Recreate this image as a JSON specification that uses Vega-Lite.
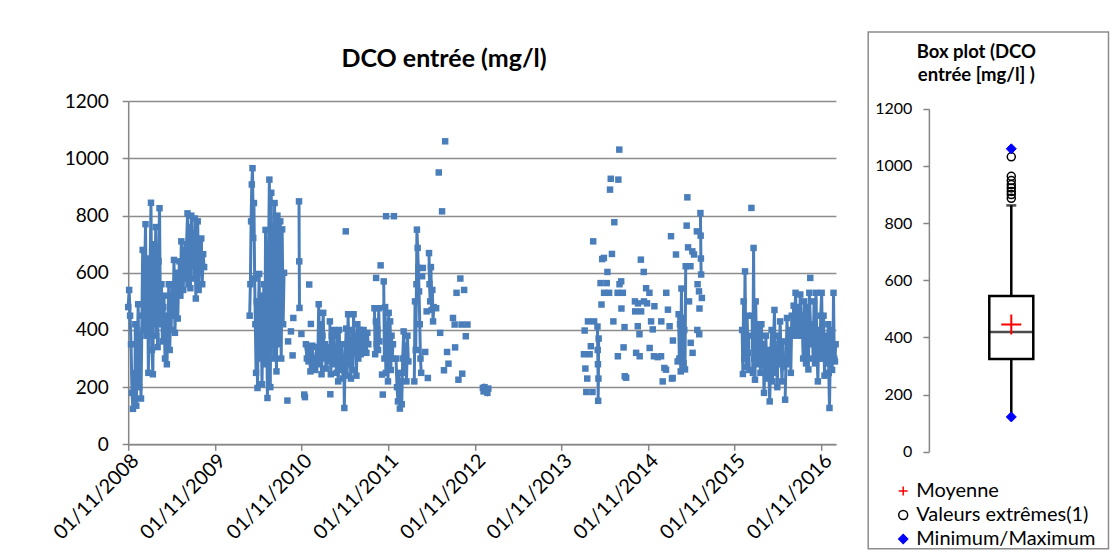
{
"$schema": "https://vega.github.io/schema/vega-lite/v6.json",
"padding": {"left": 49.2, "top": 31, "right": 0, "bottom": 0},
"background": "white",
"spacing": 25,
"config": {"font": "Lato", "view": {"stroke": null}},
"datasets": {
"dco": [
{"d":"2008-11-01","v":480,"s":1},{"d":"2008-11-05","v":540,"s":1},{"d":"2008-11-09","v":450,"s":1},{"d":"2008-11-13","v":350,"s":1},{"d":"2008-11-17","v":180,"s":1},{"d":"2008-11-21","v":124,"s":1},{"d":"2008-11-25","v":250,"s":1},{"d":"2008-11-29","v":160,"s":1},
{"d":"2008-12-01","v":420,"s":1},{"d":"2008-12-05","v":135,"s":1},{"d":"2008-12-09","v":300,"s":1},{"d":"2008-12-13","v":490,"s":1},{"d":"2008-12-17","v":200,"s":1},{"d":"2008-12-21","v":380,"s":1},{"d":"2008-12-25","v":160,"s":1},{"d":"2008-12-29","v":450,"s":1},
{"d":"2009-01-01","v":680,"s":1},{"d":"2009-01-05","v":400,"s":1},{"d":"2009-01-09","v":560,"s":1},{"d":"2009-01-13","v":770,"s":1},{"d":"2009-01-17","v":380,"s":1},{"d":"2009-01-21","v":650,"s":1},{"d":"2009-01-25","v":250,"s":1},{"d":"2009-01-29","v":500,"s":1},
{"d":"2009-02-01","v":600,"s":1},{"d":"2009-02-05","v":845,"s":1},{"d":"2009-02-09","v":330,"s":1},{"d":"2009-02-13","v":245,"s":1},{"d":"2009-02-17","v":700,"s":1},{"d":"2009-02-21","v":420,"s":1},{"d":"2009-02-25","v":760,"s":1},{"d":"2009-02-28","v":380,"s":1},
{"d":"2009-03-01","v":520,"s":1},{"d":"2009-03-05","v":340,"s":1},{"d":"2009-03-09","v":640,"s":1},{"d":"2009-03-13","v":826,"s":1},{"d":"2009-03-17","v":420,"s":1},{"d":"2009-03-21","v":560,"s":1},{"d":"2009-03-25","v":360,"s":1},{"d":"2009-03-29","v":480,"s":1},
{"d":"2009-04-01","v":520,"s":1},{"d":"2009-04-05","v":300,"s":1},{"d":"2009-04-09","v":450,"s":1},{"d":"2009-04-13","v":280,"s":1},{"d":"2009-04-17","v":400,"s":1},{"d":"2009-04-21","v":560,"s":1},{"d":"2009-04-25","v":330,"s":1},{"d":"2009-04-29","v":470,"s":1},
{"d":"2009-05-01","v":400,"s":1},{"d":"2009-05-05","v":560,"s":1},{"d":"2009-05-09","v":450,"s":1},{"d":"2009-05-13","v":645,"s":1},{"d":"2009-05-17","v":390,"s":1},{"d":"2009-05-21","v":520,"s":1},{"d":"2009-05-25","v":600,"s":1},{"d":"2009-05-29","v":440,"s":1},
{"d":"2009-06-01","v":560,"s":1},{"d":"2009-06-05","v":640,"s":1},{"d":"2009-06-09","v":520,"s":1},{"d":"2009-06-13","v":710,"s":1},{"d":"2009-06-17","v":600,"s":1},{"d":"2009-06-21","v":540,"s":1},{"d":"2009-06-25","v":680,"s":1},{"d":"2009-06-29","v":580,"s":1},
{"d":"2009-07-01","v":600,"s":1},{"d":"2009-07-05","v":700,"s":1},{"d":"2009-07-09","v":808,"s":1},{"d":"2009-07-13","v":560,"s":1},{"d":"2009-07-17","v":760,"s":1},{"d":"2009-07-21","v":546,"s":1},{"d":"2009-07-25","v":800,"s":1},{"d":"2009-07-29","v":640,"s":1},
{"d":"2009-08-01","v":700,"s":1},{"d":"2009-08-05","v":580,"s":1},{"d":"2009-08-09","v":790,"s":1},{"d":"2009-08-13","v":510,"s":1},{"d":"2009-08-17","v":650,"s":1},{"d":"2009-08-21","v":780,"s":1},{"d":"2009-08-25","v":540,"s":1},{"d":"2009-08-29","v":700,"s":1},
{"d":"2009-09-01","v":600,"s":1},{"d":"2009-09-05","v":720,"s":1},{"d":"2009-09-09","v":560,"s":1},{"d":"2009-09-13","v":665,"s":1},{"d":"2009-09-17","v":620,"s":1},
{"d":"2010-03-28","v":450,"s":2},{"d":"2010-03-31","v":560,"s":2},
{"d":"2010-04-03","v":780,"s":2},{"d":"2010-04-06","v":909,"s":2},{"d":"2010-04-09","v":966,"s":2},{"d":"2010-04-12","v":722,"s":2},{"d":"2010-04-15","v":844,"s":2},{"d":"2010-04-18","v":580,"s":2},{"d":"2010-04-21","v":420,"s":2},{"d":"2010-04-24","v":250,"s":2},{"d":"2010-04-27","v":500,"s":2},{"d":"2010-04-30","v":197,"s":2},
{"d":"2010-05-03","v":400,"s":2},{"d":"2010-05-07","v":596,"s":2},{"d":"2010-05-11","v":300,"s":2},{"d":"2010-05-15","v":520,"s":2},{"d":"2010-05-19","v":210,"s":2},{"d":"2010-05-23","v":450,"s":2},{"d":"2010-05-27","v":560,"s":2},{"d":"2010-05-31","v":280,"s":2},
{"d":"2010-06-03","v":750,"s":2},{"d":"2010-06-07","v":450,"s":2},{"d":"2010-06-11","v":162,"s":2},{"d":"2010-06-15","v":600,"s":2},{"d":"2010-06-19","v":926,"s":2},{"d":"2010-06-23","v":200,"s":2},{"d":"2010-06-27","v":880,"s":2},{"d":"2010-06-30","v":400,"s":2},
{"d":"2010-07-03","v":700,"s":2},{"d":"2010-07-07","v":300,"s":2},{"d":"2010-07-11","v":844,"s":2},{"d":"2010-07-15","v":500,"s":2},{"d":"2010-07-19","v":255,"s":2},{"d":"2010-07-23","v":800,"s":2},{"d":"2010-07-27","v":350,"s":2},{"d":"2010-07-31","v":600,"s":2},
{"d":"2010-08-04","v":780,"s":2},{"d":"2010-08-08","v":300,"s":2},{"d":"2010-08-12","v":752,"s":2},{"d":"2010-08-16","v":420,"s":2},{"d":"2010-08-20","v":600,"s":2},
{"d":"2010-09-03","v":153},{"d":"2010-09-06","v":360},{"d":"2010-09-18","v":395},{"d":"2010-09-25","v":311},{"d":"2010-09-28","v":442},
{"d":"2010-10-22","v":850,"s":3},{"d":"2010-10-23","v":640,"s":3},{"d":"2010-10-24","v":477,"s":3},
{"d":"2010-11-01","v":386},{"d":"2010-11-13","v":174},{"d":"2010-11-16","v":165},{"d":"2010-12-04","v":559},{"d":"2010-12-11","v":421},
{"d":"2010-11-20","v":350,"s":4},{"d":"2010-11-24","v":300,"s":4},{"d":"2010-11-28","v":340,"s":4},{"d":"2010-12-01","v":290,"s":4},{"d":"2010-12-05","v":330,"s":4},{"d":"2010-12-09","v":255,"s":4},{"d":"2010-12-13","v":310,"s":4},{"d":"2010-12-17","v":345,"s":4},{"d":"2010-12-21","v":270,"s":4},{"d":"2010-12-25","v":300,"s":4},{"d":"2010-12-29","v":260,"s":4},
{"d":"2011-01-01","v":295,"s":4},{"d":"2011-01-05","v":340,"s":4},{"d":"2011-01-09","v":280,"s":4},{"d":"2011-01-13","v":490,"s":4},{"d":"2011-01-17","v":300,"s":4},{"d":"2011-01-21","v":420,"s":4},{"d":"2011-01-25","v":245,"s":4},{"d":"2011-01-29","v":380,"s":4},
{"d":"2011-02-01","v":460,"s":4},{"d":"2011-02-05","v":300,"s":4},{"d":"2011-02-09","v":350,"s":4},{"d":"2011-02-13","v":265,"s":4},{"d":"2011-02-17","v":320,"s":4},{"d":"2011-02-21","v":290,"s":4},{"d":"2011-02-25","v":340,"s":4},
{"d":"2011-03-01","v":430,"s":5},{"d":"2011-03-05","v":245,"s":5},{"d":"2011-03-09","v":380,"s":5},{"d":"2011-03-13","v":300,"s":5},{"d":"2011-03-17","v":400,"s":5},{"d":"2011-03-21","v":280,"s":5},{"d":"2011-03-25","v":330,"s":5},{"d":"2011-03-29","v":250,"s":5},
{"d":"2011-04-01","v":380,"s":5},{"d":"2011-04-05","v":220,"s":5},{"d":"2011-04-09","v":400,"s":5},{"d":"2011-04-13","v":300,"s":5},{"d":"2011-04-17","v":260,"s":5},{"d":"2011-04-21","v":350,"s":5},{"d":"2011-04-25","v":230,"s":5},{"d":"2011-04-29","v":300,"s":5},
{"d":"2011-05-01","v":127,"s":5},{"d":"2011-05-04","v":300,"s":5},{"d":"2011-05-09","v":405,"s":5},{"d":"2011-05-13","v":240,"s":5},{"d":"2011-05-17","v":455,"s":5},{"d":"2011-05-21","v":280,"s":5},{"d":"2011-05-25","v":350,"s":5},{"d":"2011-05-29","v":230,"s":5},
{"d":"2011-06-01","v":400,"s":5},{"d":"2011-06-05","v":260,"s":5},{"d":"2011-06-09","v":455,"s":5},{"d":"2011-06-13","v":320,"s":5},{"d":"2011-06-17","v":380,"s":5},{"d":"2011-06-21","v":240,"s":5},{"d":"2011-06-25","v":420,"s":5},{"d":"2011-06-29","v":300,"s":5},
{"d":"2011-07-01","v":350,"s":5},{"d":"2011-07-05","v":400,"s":5},{"d":"2011-07-09","v":315,"s":5},{"d":"2011-07-13","v":380,"s":5},{"d":"2011-07-17","v":330,"s":5},{"d":"2011-07-21","v":400,"s":5},{"d":"2011-07-25","v":340,"s":5},{"d":"2011-07-29","v":370,"s":5},
{"d":"2011-08-02","v":320,"s":5},{"d":"2011-08-06","v":390,"s":5},{"d":"2011-08-10","v":350,"s":5},
{"d":"2011-03-03","v":175},{"d":"2011-05-07","v":745},
{"d":"2011-09-05","v":476,"s":6},{"d":"2011-09-08","v":315,"s":6},{"d":"2011-09-11","v":430,"s":6},{"d":"2011-09-14","v":350,"s":6},{"d":"2011-09-17","v":400,"s":6},{"d":"2011-09-20","v":330,"s":6},{"d":"2011-09-23","v":476,"s":6},{"d":"2011-09-26","v":360,"s":6},
{"d":"2011-09-12","v":582},{"d":"2011-10-01","v":626},{"d":"2011-10-07","v":244},{"d":"2011-10-10","v":174},{"d":"2011-10-24","v":798},{"d":"2011-11-26","v":798},
{"d":"2011-10-14","v":570,"s":7},{"d":"2011-10-17","v":300,"s":7},{"d":"2011-10-20","v":480,"s":7},{"d":"2011-10-23","v":250,"s":7},{"d":"2011-10-26","v":420,"s":7},{"d":"2011-10-29","v":350,"s":7},{"d":"2011-11-01","v":220,"s":7},{"d":"2011-11-04","v":460,"s":7},{"d":"2011-11-07","v":300,"s":7},{"d":"2011-11-10","v":430,"s":7},{"d":"2011-11-13","v":260,"s":7},{"d":"2011-11-16","v":380,"s":7},{"d":"2011-11-19","v":300,"s":7},{"d":"2011-11-22","v":350,"s":7},
{"d":"2011-12-05","v":300,"s":8},{"d":"2011-12-09","v":200,"s":8},{"d":"2011-12-13","v":150,"s":8},{"d":"2011-12-17","v":250,"s":8},{"d":"2011-12-21","v":125,"s":8},{"d":"2011-12-25","v":220,"s":8},{"d":"2011-12-29","v":140,"s":8},{"d":"2012-01-02","v":300,"s":8},{"d":"2012-01-06","v":395,"s":8},{"d":"2012-01-10","v":250,"s":8},{"d":"2012-01-14","v":345,"s":8},{"d":"2012-01-18","v":220,"s":8},{"d":"2012-01-22","v":380,"s":8},{"d":"2012-01-26","v":290,"s":8},
{"d":"2012-02-20","v":220,"s":9},{"d":"2012-02-23","v":500,"s":9},{"d":"2012-02-26","v":330,"s":9},{"d":"2012-02-29","v":560,"s":9},{"d":"2012-03-02","v":751,"s":9},{"d":"2012-03-05","v":687,"s":9},{"d":"2012-03-08","v":617,"s":9},{"d":"2012-03-11","v":535,"s":9},{"d":"2012-03-14","v":420,"s":9},{"d":"2012-03-17","v":300,"s":9},{"d":"2012-03-20","v":250,"s":9},
{"d":"2012-03-24","v":588},{"d":"2012-03-27","v":617},{"d":"2012-04-06","v":323},{"d":"2012-04-12","v":465},{"d":"2012-04-17","v":232},
{"d":"2012-04-22","v":669,"s":10},{"d":"2012-04-24","v":560,"s":10},{"d":"2012-04-27","v":500,"s":10},{"d":"2012-04-30","v":620,"s":10},{"d":"2012-05-03","v":470,"s":10},{"d":"2012-05-06","v":540,"s":10},{"d":"2012-05-09","v":430,"s":10},{"d":"2012-05-12","v":480,"s":10},
{"d":"2012-05-22","v":476},{"d":"2012-06-02","v":951},{"d":"2012-06-08","v":390},{"d":"2012-06-16","v":815},{"d":"2012-06-24","v":259},{"d":"2012-06-29","v":1060},{"d":"2012-07-07","v":323},{"d":"2012-07-13","v":282},{"d":"2012-08-01","v":442},{"d":"2012-08-08","v":419},{"d":"2012-08-10","v":339},{"d":"2012-08-16","v":530},{"d":"2012-08-24","v":226},{"d":"2012-09-01","v":580},{"d":"2012-09-06","v":419},{"d":"2012-09-09","v":247},{"d":"2012-09-17","v":540},{"d":"2012-09-24","v":378},{"d":"2012-10-01","v":419},
{"d":"2012-12-05","v":197,"s":11},{"d":"2012-12-08","v":185,"s":11},{"d":"2012-12-12","v":200,"s":11},{"d":"2012-12-18","v":190,"s":11},{"d":"2012-12-24","v":180,"s":11},{"d":"2012-12-28","v":195,"s":11},
{"d":"2014-02-04","v":315},{"d":"2014-02-07","v":398},{"d":"2014-02-10","v":265},{"d":"2014-02-14","v":183},{"d":"2014-02-18","v":230},{"d":"2014-02-21","v":430},{"d":"2014-02-28","v":315},{"d":"2014-03-05","v":343},{"d":"2014-03-12","v":183},{"d":"2014-03-15","v":710},{"d":"2014-03-19","v":430},
{"d":"2014-04-02","v":412,"s":12},{"d":"2014-04-03","v":330,"s":12},{"d":"2014-04-04","v":280,"s":12},{"d":"2014-04-05","v":152,"s":12},{"d":"2014-04-06","v":230,"s":12},{"d":"2014-04-07","v":370,"s":12},
{"d":"2014-04-15","v":564},{"d":"2014-04-19","v":489},{"d":"2014-04-22","v":648},{"d":"2014-04-29","v":652},{"d":"2014-04-30","v":530},{"d":"2014-05-11","v":564},{"d":"2014-05-14","v":603},{"d":"2014-05-21","v":530},{"d":"2014-05-25","v":891},{"d":"2014-05-28","v":929},{"d":"2014-06-02","v":666},{"d":"2014-06-08","v":430},{"d":"2014-06-12","v":777},{"d":"2014-06-26","v":530},{"d":"2014-06-27","v":308},{"d":"2014-06-29","v":926},{"d":"2014-07-03","v":1031},{"d":"2014-07-04","v":560},{"d":"2014-07-11","v":570},{"d":"2014-07-12","v":475},{"d":"2014-07-18","v":530},{"d":"2014-07-21","v":339},{"d":"2014-07-25","v":410},{"d":"2014-07-26","v":238},{"d":"2014-08-01","v":233},
{"d":"2014-09-07","v":500},{"d":"2014-09-08","v":465},{"d":"2014-09-12","v":320},{"d":"2014-09-19","v":413},{"d":"2014-09-20","v":493},{"d":"2014-09-26","v":385},{"d":"2014-09-27","v":308},{"d":"2014-10-02","v":646},{"d":"2014-10-03","v":465},{"d":"2014-10-14","v":603},{"d":"2014-10-15","v":500},{"d":"2014-10-24","v":546},{"d":"2014-10-28","v":493},{"d":"2014-11-07","v":530},{"d":"2014-11-08","v":337},{"d":"2014-11-14","v":430},{"d":"2014-11-21","v":402},{"d":"2014-11-26","v":308},{"d":"2014-11-28","v":483},{"d":"2014-12-12","v":305},{"d":"2014-12-26","v":308},{"d":"2014-12-27","v":430},
{"d":"2015-01-02","v":220},{"d":"2015-01-09","v":267},{"d":"2015-01-16","v":261},{"d":"2015-01-17","v":530},{"d":"2015-01-24","v":471},{"d":"2015-01-31","v":413},{"d":"2015-02-06","v":728},{"d":"2015-02-10","v":230},{"d":"2015-02-13","v":232},{"d":"2015-02-14","v":363},{"d":"2015-02-27","v":664},{"d":"2015-03-06","v":290},
{"d":"2015-03-10","v":455,"s":13},{"d":"2015-03-13","v":300,"s":13},{"d":"2015-03-16","v":420,"s":13},{"d":"2015-03-19","v":255,"s":13},{"d":"2015-03-22","v":545,"s":13},{"d":"2015-03-25","v":330,"s":13},{"d":"2015-03-28","v":442,"s":13},{"d":"2015-03-31","v":283,"s":13},{"d":"2015-04-03","v":400,"s":13},{"d":"2015-04-06","v":262,"s":13},{"d":"2015-04-09","v":623,"s":13},
{"d":"2015-04-13","v":765},{"d":"2015-04-16","v":864},{"d":"2015-04-19","v":689},{"d":"2015-04-23","v":500},{"d":"2015-04-29","v":623},{"d":"2015-04-30","v":355},{"d":"2015-05-07","v":675},{"d":"2015-05-08","v":320},{"d":"2015-05-14","v":664},{"d":"2015-05-26","v":745},{"d":"2015-05-28","v":400},{"d":"2015-05-29","v":560},{"d":"2015-06-04","v":535},{"d":"2015-06-05","v":385},{"d":"2015-06-06","v":475},{"d":"2015-06-16","v":512},
{"d":"2015-06-10","v":809,"s":14},{"d":"2015-06-11","v":730,"s":14},{"d":"2015-06-12","v":650,"s":14},{"d":"2015-06-13","v":594,"s":14},
{"d":"2015-12-03","v":400,"s":15},{"d":"2015-12-06","v":246,"s":15},{"d":"2015-12-09","v":500,"s":15},{"d":"2015-12-12","v":300,"s":15},{"d":"2015-12-15","v":605,"s":15},{"d":"2015-12-18","v":350,"s":15},{"d":"2015-12-21","v":270,"s":15},{"d":"2015-12-24","v":450,"s":15},{"d":"2015-12-27","v":320,"s":15},{"d":"2015-12-30","v":380,"s":15},{"d":"2016-01-02","v":260,"s":15},
{"d":"2016-01-11","v":827},
{"d":"2016-01-14","v":450,"s":16},{"d":"2016-01-17","v":250,"s":16},{"d":"2016-01-20","v":687,"s":16},{"d":"2016-01-23","v":300,"s":16},{"d":"2016-01-26","v":226,"s":16},{"d":"2016-01-29","v":500,"s":16},{"d":"2016-02-01","v":350,"s":16},{"d":"2016-02-04","v":280,"s":16},{"d":"2016-02-07","v":420,"s":16},{"d":"2016-02-10","v":300,"s":16},
{"d":"2016-02-14","v":400,"s":17},{"d":"2016-02-18","v":250,"s":17},{"d":"2016-02-22","v":420,"s":17},{"d":"2016-02-26","v":300,"s":17},{"d":"2016-03-01","v":350,"s":17},{"d":"2016-03-04","v":180,"s":17},{"d":"2016-03-08","v":280,"s":17},{"d":"2016-03-12","v":380,"s":17},{"d":"2016-03-16","v":230,"s":17},{"d":"2016-03-20","v":330,"s":17},{"d":"2016-03-24","v":260,"s":17},{"d":"2016-03-28","v":150,"s":17},
{"d":"2016-04-01","v":300,"s":17},{"d":"2016-04-05","v":400,"s":17},{"d":"2016-04-09","v":220,"s":17},{"d":"2016-04-13","v":350,"s":17},{"d":"2016-04-17","v":470,"s":17},{"d":"2016-04-21","v":250,"s":17},{"d":"2016-04-25","v":330,"s":17},{"d":"2016-04-29","v":200,"s":17},
{"d":"2016-05-03","v":380,"s":17},{"d":"2016-05-07","v":280,"s":17},{"d":"2016-05-11","v":430,"s":17},{"d":"2016-05-15","v":300,"s":17},{"d":"2016-05-19","v":220,"s":17},{"d":"2016-05-23","v":360,"s":17},{"d":"2016-05-27","v":270,"s":17},
{"d":"2016-06-01","v":156,"s":18},{"d":"2016-06-05","v":300,"s":18},{"d":"2016-06-09","v":442,"s":18},{"d":"2016-06-13","v":280,"s":18},{"d":"2016-06-17","v":357,"s":18},{"d":"2016-06-21","v":400,"s":18},{"d":"2016-06-25","v":250,"s":18},{"d":"2016-06-29","v":450,"s":18},
{"d":"2016-07-03","v":380,"s":18},{"d":"2016-07-07","v":485,"s":18},{"d":"2016-07-11","v":400,"s":18},{"d":"2016-07-15","v":530,"s":18},{"d":"2016-07-19","v":420,"s":18},{"d":"2016-07-23","v":380,"s":18},{"d":"2016-07-27","v":480,"s":18},{"d":"2016-07-31","v":400,"s":18},
{"d":"2016-08-04","v":524,"s":18},{"d":"2016-08-08","v":380,"s":18},{"d":"2016-08-12","v":450,"s":18},{"d":"2016-08-16","v":300,"s":18},{"d":"2016-08-20","v":500,"s":18},{"d":"2016-08-24","v":350,"s":18},{"d":"2016-08-28","v":283,"s":18},{"d":"2016-08-31","v":420,"s":18},
{"d":"2016-09-03","v":480,"s":18},{"d":"2016-09-07","v":262,"s":18},{"d":"2016-09-11","v":530,"s":18},{"d":"2016-09-19","v":350,"s":18},{"d":"2016-09-23","v":420,"s":18},{"d":"2016-09-27","v":300,"s":18},
{"d":"2016-10-01","v":500,"s":18},{"d":"2016-10-05","v":283,"s":18},{"d":"2016-10-09","v":530,"s":18},{"d":"2016-10-13","v":350,"s":18},{"d":"2016-10-17","v":220,"s":18},{"d":"2016-10-21","v":400,"s":18},{"d":"2016-10-25","v":300,"s":18},{"d":"2016-10-29","v":450,"s":18},
{"d":"2016-11-02","v":530,"s":18},{"d":"2016-11-06","v":300,"s":18},{"d":"2016-11-10","v":450,"s":18},{"d":"2016-11-14","v":240,"s":18},{"d":"2016-11-18","v":380,"s":18},{"d":"2016-11-22","v":283,"s":18},{"d":"2016-11-26","v":345,"s":18},{"d":"2016-11-30","v":420,"s":18},
{"d":"2016-12-02","v":250,"s":18},{"d":"2016-12-05","v":127,"s":18},{"d":"2016-12-08","v":300,"s":18},{"d":"2016-12-12","v":400,"s":18},{"d":"2016-12-16","v":260,"s":18},{"d":"2016-12-20","v":345,"s":18},{"d":"2016-12-22","v":530,"s":18},{"d":"2016-12-25","v":300,"s":18},{"d":"2016-12-28","v":290,"s":18},{"d":"2016-12-31","v":350,"s":18},
{"d":"2016-09-15","v":582}
],
"box": [{"var":"DCO entrée","min":122,"q1":325,"med":419,"q3":545,"whi":862}],
"pts": [
{"var":"DCO entrée","k":"Moyenne","val":445},
{"var":"DCO entrée","k":"Valeurs extrêmes(1)","val":1032},
{"var":"DCO entrée","k":"Valeurs extrêmes(1)","val":964},
{"var":"DCO entrée","k":"Valeurs extrêmes(1)","val":949},
{"var":"DCO entrée","k":"Valeurs extrêmes(1)","val":935},
{"var":"DCO entrée","k":"Valeurs extrêmes(1)","val":923},
{"var":"DCO entrée","k":"Valeurs extrêmes(1)","val":911},
{"var":"DCO entrée","k":"Valeurs extrêmes(1)","val":900},
{"var":"DCO entrée","k":"Valeurs extrêmes(1)","val":887},
{"var":"DCO entrée","k":"Minimum/Maximum","val":1060},
{"var":"DCO entrée","k":"Minimum/Maximum","val":122}
]
},
"hconcat": [
{
"width": 707.7,
"height": 412.3,
"title": {"text": "DCO entrée (mg/l)", "font": "Lato", "fontSize": 25, "fontWeight": "bold", "color": "#000000", "anchor": "middle", "dx": -38, "offset": -40},
"data": {"name": "dco"},
"encoding": {
"x": {"field": "d", "type": "temporal",
 "scale": {"type": "utc", "domain": [{"year": 2008, "month": 11, "date": 1, "utc": true}, {"year": 2017, "month": 1, "date": 1, "utc": true}]},
 "axis": {"title": null, "grid": false, "labelExpr": "utcFormat(datum.value, '%d/%m/%Y')",
  "values": [{"year":2008,"month":11,"date":1,"utc":true},{"year":2009,"month":11,"date":1,"utc":true},{"year":2010,"month":11,"date":1,"utc":true},{"year":2011,"month":11,"date":1,"utc":true},{"year":2012,"month":11,"date":1,"utc":true},{"year":2013,"month":11,"date":1,"utc":true},{"year":2014,"month":11,"date":1,"utc":true},{"year":2015,"month":11,"date":1,"utc":true},{"year":2016,"month":11,"date":1,"utc":true}],
  "labelAngle": -45, "labelOverlap": false, "labelFont": "Lato", "labelFontSize": 20, "labelColor": "#000000", "labelPadding": 0,
  "tickSize": 6, "tickColor": "#868686", "tickWidth": 1.5, "domainColor": "#868686", "domainWidth": 1.5}},
"y": {"field": "v", "type": "quantitative",
 "scale": {"domain": [0, 1200], "range": [412.3, 69.3], "nice": false, "zero": false},
 "axis": {"title": null, "format": "d", "values": [0, 200, 400, 600, 800, 1000, 1200], "labelFont": "Lato", "labelFontSize": 19, "labelColor": "#000000", "labelPadding": 14,
  "tickSize": 6, "tickColor": "#868686", "tickWidth": 1.5, "domainColor": "#868686", "domainWidth": 1.5,
  "grid": true, "gridColor": "#8c8c8c", "gridWidth": 1.6}}
},
"layer": [
{"transform": [{"filter": "isValid(datum.s)"}],
 "mark": {"type": "line", "color": "#4a7ebb", "strokeWidth": 3},
 "encoding": {"detail": {"field": "s", "type": "nominal"}}},
{"mark": {"type": "square", "color": "#4a7ebb", "size": 42, "opacity": 1}}
]
},
{
"width": 240.3,
"height": 516.8,
"view": {"stroke": "#8c8c8c", "strokeWidth": 1.5},
"title": {"text": ["Box plot (DCO", "entrée [mg/l] )"], "font": "Lato", "fontSize": 18.5, "fontWeight": "bold", "color": "#000000", "lineHeight": 24, "anchor": "middle", "dx": -12, "offset": -53},
"encoding": {
"x": {"field": "var", "type": "nominal", "scale": {"type": "band", "range": [121.1, 165.1], "paddingInner": 0, "paddingOuter": 0}, "axis": null}
},
"layer": [
{"data": {"name": "box"},
 "mark": {"type": "rule", "color": "#000000", "strokeWidth": 2.5},
 "encoding": {
  "y": {"field": "min", "type": "quantitative", "scale": {"domain": [0, 1200], "range": [419.8, 76.8], "nice": false, "zero": false},
   "axis": {"title": null, "format": "d", "values": [0, 200, 400, 600, 800, 1000, 1200], "offset": -60.7, "labelFont": "Lato", "labelFontSize": 16, "labelColor": "#000000", "labelPadding": 11, "tickSize": 6, "tickColor": "#868686", "tickWidth": 1.5, "domainColor": "#868686", "domainWidth": 1.5, "grid": false}},
  "y2": {"field": "whi"}}},
{"data": {"name": "box"},
 "mark": {"type": "bar", "fill": "#ffffff", "stroke": "#000000", "strokeWidth": 2.5},
 "encoding": {
  "y": {"field": "q1", "type": "quantitative", "scale": {"domain": [0, 1200], "range": [419.8, 76.8], "nice": false, "zero": false},
   "axis": {"title": null, "format": "d", "values": [0, 200, 400, 600, 800, 1000, 1200], "offset": -60.7, "labelFont": "Lato", "labelFontSize": 16, "labelColor": "#000000", "labelPadding": 11, "tickSize": 6, "tickColor": "#868686", "tickWidth": 1.5, "domainColor": "#868686", "domainWidth": 1.5, "grid": false}},
  "y2": {"field": "q3"}}},
{"data": {"name": "box"},
 "mark": {"type": "tick", "color": "#000000", "thickness": 2.5, "size": 44},
 "encoding": {"y": {"field": "med", "type": "quantitative", "scale": {"domain": [0, 1200], "range": [419.8, 76.8], "nice": false, "zero": false},
   "axis": {"title": null, "format": "d", "values": [0, 200, 400, 600, 800, 1000, 1200], "offset": -60.7, "labelFont": "Lato", "labelFontSize": 16, "labelColor": "#000000", "labelPadding": 11, "tickSize": 6, "tickColor": "#868686", "tickWidth": 1.5, "domainColor": "#868686", "domainWidth": 1.5, "grid": false}}}},
{"data": {"name": "box"},
 "mark": {"type": "tick", "color": "#000000", "thickness": 2.5, "size": 10},
 "encoding": {"y": {"field": "whi", "type": "quantitative", "scale": {"domain": [0, 1200], "range": [419.8, 76.8], "nice": false, "zero": false},
   "axis": {"title": null, "format": "d", "values": [0, 200, 400, 600, 800, 1000, 1200], "offset": -60.7, "labelFont": "Lato", "labelFontSize": 16, "labelColor": "#000000", "labelPadding": 11, "tickSize": 6, "tickColor": "#868686", "tickWidth": 1.5, "domainColor": "#868686", "domainWidth": 1.5, "grid": false}}}},
{"data": {"name": "pts"},
 "transform": [{"filter": {"field": "k", "equal": "Valeurs extrêmes(1)"}}],
 "mark": {"type": "point", "size": 64, "strokeWidth": 1.5, "opacity": 1},
 "encoding": {
  "y": {"field": "val", "type": "quantitative", "scale": {"domain": [0, 1200], "range": [419.8, 76.8], "nice": false, "zero": false},
   "axis": {"title": null, "format": "d", "values": [0, 200, 400, 600, 800, 1000, 1200], "offset": -60.7, "labelFont": "Lato", "labelFontSize": 16, "labelColor": "#000000", "labelPadding": 11, "tickSize": 6, "tickColor": "#868686", "tickWidth": 1.5, "domainColor": "#868686", "domainWidth": 1.5, "grid": false}},
  "shape": {"field": "k", "type": "nominal", "scale": {"domain": ["Moyenne", "Valeurs extrêmes(1)", "Minimum/Maximum"], "range": ["M-1,0H1M0,-1V1", "circle", "diamond"]},
   "legend": {"title": null, "orient": "none", "legendX": 765, "legendY": 449, "labelFont": "Lato", "labelFontSize": 20, "labelColor": "#000000", "labelLimit": 400, "symbolSize": 80, "symbolStrokeWidth": 1.5, "rowPadding": 4, "labelOffset": 3, "padding": 0}},
  "stroke": {"field": "k", "type": "nominal", "scale": {"domain": ["Moyenne", "Valeurs extrêmes(1)", "Minimum/Maximum"], "range": ["#ff0000", "#000000", "#0000ff"]},
   "legend": {"title": null, "orient": "none", "legendX": 765, "legendY": 449, "labelFont": "Lato", "labelFontSize": 20, "labelColor": "#000000", "labelLimit": 400, "symbolSize": 80, "symbolStrokeWidth": 1.5, "rowPadding": 4, "labelOffset": 3, "padding": 0}},
  "fill": {"field": "k", "type": "nominal", "scale": {"domain": ["Moyenne", "Valeurs extrêmes(1)", "Minimum/Maximum"], "range": ["transparent", "transparent", "#0000ff"]},
   "legend": {"title": null, "orient": "none", "legendX": 765, "legendY": 449, "labelFont": "Lato", "labelFontSize": 20, "labelColor": "#000000", "labelLimit": 400, "symbolSize": 80, "symbolStrokeWidth": 1.5, "rowPadding": 4, "labelOffset": 3, "padding": 0}}
 }},
{"data": {"name": "pts"},
 "transform": [{"filter": {"field": "k", "equal": "Minimum/Maximum"}}],
 "mark": {"type": "point", "size": 100, "strokeWidth": 1, "opacity": 1},
 "encoding": {
  "y": {"field": "val", "type": "quantitative", "scale": {"domain": [0, 1200], "range": [419.8, 76.8], "nice": false, "zero": false},
   "axis": {"title": null, "format": "d", "values": [0, 200, 400, 600, 800, 1000, 1200], "offset": -60.7, "labelFont": "Lato", "labelFontSize": 16, "labelColor": "#000000", "labelPadding": 11, "tickSize": 6, "tickColor": "#868686", "tickWidth": 1.5, "domainColor": "#868686", "domainWidth": 1.5, "grid": false}},
  "shape": {"field": "k", "type": "nominal"},
  "stroke": {"field": "k", "type": "nominal"},
  "fill": {"field": "k", "type": "nominal"}
 }},
{"data": {"name": "pts"},
 "transform": [{"filter": {"field": "k", "equal": "Moyenne"}}],
 "mark": {"type": "point", "size": 400, "strokeWidth": 2, "opacity": 1},
 "encoding": {
  "y": {"field": "val", "type": "quantitative", "scale": {"domain": [0, 1200], "range": [419.8, 76.8], "nice": false, "zero": false},
   "axis": {"title": null, "format": "d", "values": [0, 200, 400, 600, 800, 1000, 1200], "offset": -60.7, "labelFont": "Lato", "labelFontSize": 16, "labelColor": "#000000", "labelPadding": 11, "tickSize": 6, "tickColor": "#868686", "tickWidth": 1.5, "domainColor": "#868686", "domainWidth": 1.5, "grid": false}},
  "shape": {"field": "k", "type": "nominal"},
  "stroke": {"field": "k", "type": "nominal"},
  "fill": {"field": "k", "type": "nominal"}
 }}
]
}
]
}
